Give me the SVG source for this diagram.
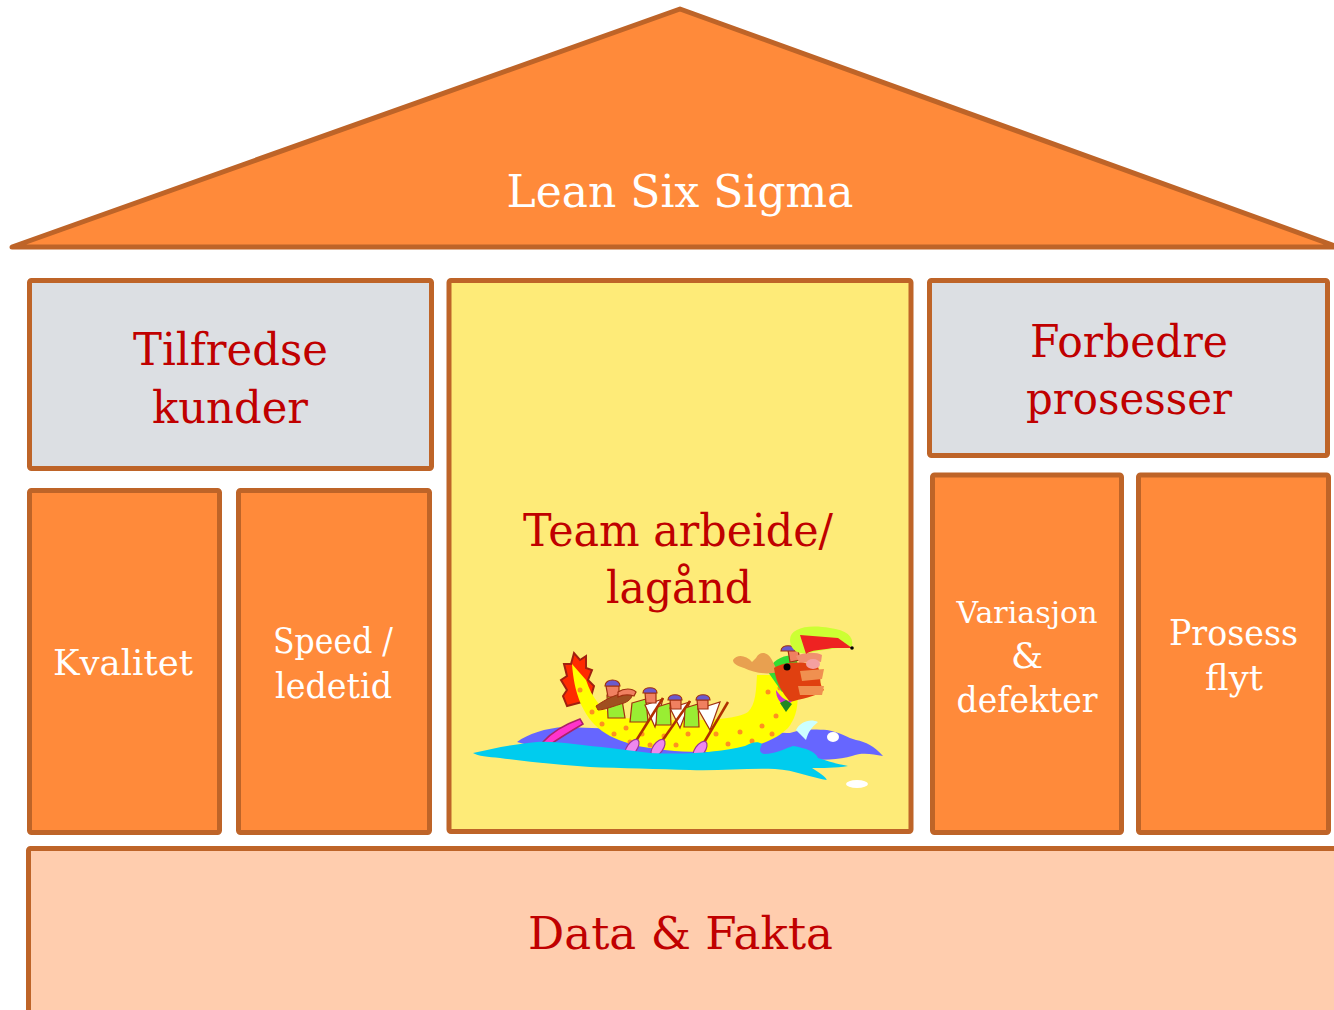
<svg xmlns="http://www.w3.org/2000/svg" width="1334" height="1010" viewBox="0 0 1334 1010">
<style>
.box{stroke:#BE6428;stroke-width:5;stroke-linejoin:round}
.org{fill:#FF8A3A}
.gry{fill:#DCDFE3}
.yel{fill:#FEEB78}
.pch{fill:#FFCDAE}
.t{font-family:"DejaVu Serif","Liberation Serif",serif;text-anchor:middle}
.red{fill:#C00000}
.wht{fill:#FFFFFF}
.big{font-size:45px}
.mid{font-size:36px}
.sml{font-size:30px}
.skin{fill:#F08060;stroke:#A03010;stroke-width:1.2}
.shirt{fill:#99EE33;stroke:#A03010;stroke-width:1.2}
.sail{fill:#FFFFFF;stroke:#A03010;stroke-width:1.2}
.cap{fill:#6A5ACD;stroke:#A03010;stroke-width:1.2}
.blade{fill:#EE88EE;stroke:#993399;stroke-width:1.2}
.scale{fill:#FF9020}
</style>
<rect width="1334" height="1010" fill="#FFFFFF"/>

<g id="roof">
<polygon class="box org" points="12,247 680,9 1338,247"/>
<text class="t wht big" x="680" y="207" textLength="347" lengthAdjust="spacingAndGlyphs">Lean Six Sigma</text>
</g>

<g id="tilfredse-kunder">
<rect class="box gry" x="29.5" y="280.5" width="402" height="188" rx="2"/>
<text class="t red big" x="230.5" y="365" textLength="195" lengthAdjust="spacingAndGlyphs">Tilfredse</text>
<text class="t red big" x="230" y="423" textLength="156" lengthAdjust="spacingAndGlyphs">kunder</text>
</g>

<g id="team-arbeide">
<rect class="box yel" x="449" y="280.5" width="462" height="551" rx="2"/>
<text class="t red big" x="678" y="546" textLength="310" lengthAdjust="spacingAndGlyphs">Team arbeide/</text>
<text class="t red big" x="679" y="603" textLength="146" lengthAdjust="spacingAndGlyphs">lagånd</text>
</g>

<g id="dragon-boat">
<!-- back water -->
<path fill="#6666FF" d="M517,742 C528,734 545,728 565,727 L700,732 C740,734 770,732 790,733 C805,728 818,730 827,730 C840,732 848,738 856,740 C866,742 874,746 883,756 C872,754 862,752 852,756 C840,760 820,760 800,760 L620,758 C580,756 545,750 517,742 Z"/>
<!-- steering oar -->
<path fill="#FF33CC" stroke="#AA2266" stroke-width="1.5" d="M543,742 C552,732 566,724 580,719 L583,724 C571,731 558,739 548,746 Z"/>
<!-- tail flame -->
<path fill="#FF2A00" stroke="#A02010" stroke-width="2" d="M567,706 L563,696 L567,690 L561,680 L567,676 L564,664 L571,664 L574,653 L580,660 L586,656 L586,668 L592,670 L588,680 L594,686 L590,700 Z"/>
<!-- boat body -->
<path fill="#FFFF00" d="M572,664 C574,692 582,716 602,731 C622,745 652,751 700,752 C742,752 772,744 788,728 C798,716 800,698 795,680 L790,675 L757,675 C756,690 756,704 748,712 C735,720 700,721 670,720 L620,718 C602,712 592,698 586,680 Z"/>
<!-- scales -->
<g class="scale">
<circle cx="592" cy="712" r="2.5"/><circle cx="602" cy="724" r="2.5"/><circle cx="614" cy="734" r="2.5"/>
<circle cx="626" cy="728" r="2.5"/><circle cx="630" cy="742" r="2.5"/><circle cx="642" cy="734" r="2.5"/>
<circle cx="650" cy="745" r="2.5"/><circle cx="664" cy="736" r="2.5"/><circle cx="676" cy="745" r="2.5"/>
<circle cx="688" cy="734" r="2.5"/><circle cx="704" cy="744" r="2.5"/><circle cx="716" cy="734" r="2.5"/>
<circle cx="728" cy="744" r="2.5"/><circle cx="740" cy="732" r="2.5"/><circle cx="752" cy="741" r="2.5"/>
<circle cx="762" cy="726" r="2.5"/><circle cx="772" cy="734" r="2.5"/><circle cx="776" cy="716" r="2.5"/>
<circle cx="784" cy="704" r="2.5"/><circle cx="768" cy="692" r="2.5"/><circle cx="780" cy="688" r="2.5"/>
<circle cx="580" cy="690" r="2.5"/>
</g>
<!-- rowers -->
<path class="shirt" d="M607,695 L621,694 L625,718 L608,718 Z"/>
<path class="skin" d="M606,686 L619,686 L619,697 L608,697 Z"/>
<path fill="#A05020" stroke="#A03010" stroke-width="1" d="M596,706 C606,699 618,693 630,692 C634,694 632,700 624,703 C614,706 604,710 598,710 Z"/>
<path class="skin" d="M618,692 C624,688 632,688 636,692 L634,696 C628,694 622,695 618,697 Z"/>
<path class="shirt" d="M632,703 L646,699 L648,722 L630,722 Z"/>
<path class="sail" d="M645,705 L663,699 L655,727 Z"/>
<path class="skin" d="M645,693 L656,693 L656,703 L646,703 Z"/>
<path class="shirt" d="M657,707 L670,703 L671,725 L656,725 Z"/>
<path class="sail" d="M670,708 L690,702 L680,728 Z"/>
<path class="skin" d="M670,700 L681,700 L681,709 L671,709 Z"/>
<path class="shirt" d="M685,708 L698,704 L699,727 L684,727 Z"/>
<path class="sail" d="M698,709 L720,702 L710,730 Z"/>
<path class="skin" d="M697,700 L708,700 L708,709 L698,709 Z"/>
<g class="cap">
<path d="M605,686 C605,678 620,678 620,686 Z"/>
<path d="M643,693 C643,686 657,686 657,693 Z"/>
<path d="M668,700 C668,693 682,693 682,700 Z"/>
<path d="M696,700 C696,693 710,693 710,700 Z"/>
</g>
<!-- paddles -->
<g stroke="#B03000" stroke-width="2.5" fill="none">
<line x1="663" y1="698" x2="634" y2="744"/>
<line x1="690" y1="701" x2="660" y2="744"/>
<line x1="728" y1="702" x2="702" y2="746"/>
</g>
<g class="blade">
<ellipse cx="632" cy="748" rx="5" ry="10" transform="rotate(35 632 748)"/>
<ellipse cx="658" cy="748" rx="5" ry="10" transform="rotate(35 658 748)"/>
<ellipse cx="700" cy="750" rx="5" ry="10" transform="rotate(35 700 750)"/>
</g>
<!-- front water -->
<path fill="#00CCEE" d="M473,753 C495,748 515,744 537,742 C560,741 585,746 610,748 L650,753 C690,755 720,752 745,746 C752,742 758,741 762,744 C760,748 758,752 764,754 C776,754 786,748 793,746 C806,748 816,752 818,758 C830,762 838,764 848,766 C836,768 822,768 812,768 C818,772 825,776 827,780 C812,778 795,770 775,769 C745,768 720,771 690,770 C660,769 620,768 590,767 C560,765 530,762 500,758 C488,757 478,756 473,753 Z"/>
<!-- head -->
<path fill="#33DD33" d="M768,672 C772,660 784,654 796,656 L800,678 L782,692 Z"/>
<path class="skin" d="M788,650 L798,650 L800,660 L790,662 Z"/>
<path fill="#F09070" d="M796,656 C806,652 816,652 822,655 L821,662 C814,661 806,662 800,664 Z"/>
<path fill="#E8A050" d="M733,660 C737,654 746,655 752,662 L756,658 C760,650 768,652 772,660 L778,672 C768,675 754,673 744,668 C738,666 733,664 733,660 Z"/>
<path fill="#E04010" d="M774,668 C786,661 806,661 818,667 C822,675 818,684 824,690 C816,697 800,699 790,702 C783,693 776,684 774,668 Z"/>
<ellipse cx="813" cy="664" rx="7" ry="5" fill="#F4A0A0"/>
<path fill="#F09050" d="M800,671 L824,669 L822,679 L802,681 Z"/>
<path fill="#F09050" d="M798,686 L824,686 L822,695 L800,695 Z"/>
<path fill="#CC33CC" d="M776,690 C780,696 786,702 792,701 L786,707 C780,703 776,698 776,690 Z"/>
<path fill="#228822" d="M780,703 L786,700 L792,704 L786,712 Z"/>
<circle cx="787" cy="667" r="3.5" fill="#000000"/>
<path class="cap" d="M781,651 C781,644 795,644 795,651 Z"/>
<!-- flag -->
<path fill="#CCFF33" d="M790,640 C790,628 808,624 830,628 C846,630 854,636 852,646 C840,648 820,650 808,653 C796,655 790,648 790,640 Z"/>
<path fill="#EE2222" d="M800,635 L838,638 L852,648 L832,648 C822,650 810,650 806,654 Z"/>
<circle cx="852" cy="648" r="1.8" fill="#000000"/>
<!-- foam -->
<path fill="#CCFFFF" d="M796,730 C800,722 810,718 818,722 C812,727 808,732 806,740 Z"/>
<ellipse cx="833" cy="737" rx="6" ry="5" fill="#FFFFFF"/>
<ellipse cx="857" cy="784" rx="11" ry="4" fill="#FFFFFF"/>
</g>

<g id="forbedre-prosesser">
<rect class="box gry" x="929.5" y="280.5" width="398" height="175" rx="2"/>
<text class="t red big" x="1129" y="357" textLength="198" lengthAdjust="spacingAndGlyphs">Forbedre</text>
<text class="t red big" x="1129" y="414" textLength="206" lengthAdjust="spacingAndGlyphs">prosesser</text>
</g>

<g id="kvalitet">
<rect class="box org" x="29.5" y="490.5" width="190" height="342" rx="2"/>
<text class="t wht mid" x="123" y="675" textLength="140" lengthAdjust="spacingAndGlyphs">Kvalitet</text>
</g>

<g id="speed-ledetid">
<rect class="box org" x="238.5" y="490.5" width="191" height="342" rx="2"/>
<text class="t wht mid" x="333" y="653" textLength="120" lengthAdjust="spacingAndGlyphs">Speed /</text>
<text class="t wht mid" x="333.5" y="698" textLength="117" lengthAdjust="spacingAndGlyphs">ledetid</text>
</g>

<g id="variasjon-defekter">
<rect class="box org" x="932.5" y="475" width="189" height="357.5" rx="2"/>
<text class="t wht sml" x="1027" y="623" textLength="141" lengthAdjust="spacingAndGlyphs">Variasjon</text>
<text class="t wht mid" x="1027" y="668">&amp;</text>
<text class="t wht mid" x="1027" y="712" textLength="141" lengthAdjust="spacingAndGlyphs">defekter</text>
</g>

<g id="prosess-flyt">
<rect class="box org" x="1138.5" y="475" width="190" height="357.5" rx="2"/>
<text class="t wht mid" x="1233.5" y="645" textLength="129" lengthAdjust="spacingAndGlyphs">Prosess</text>
<text class="t wht mid" x="1234" y="690" textLength="58" lengthAdjust="spacingAndGlyphs">flyt</text>
</g>

<g id="data-fakta">
<rect class="box pch" x="28.5" y="848.5" width="1320" height="200" rx="2"/>
<text class="t red big" x="680.5" y="949" textLength="305" lengthAdjust="spacingAndGlyphs">Data &amp; Fakta</text>
</g>
</svg>
